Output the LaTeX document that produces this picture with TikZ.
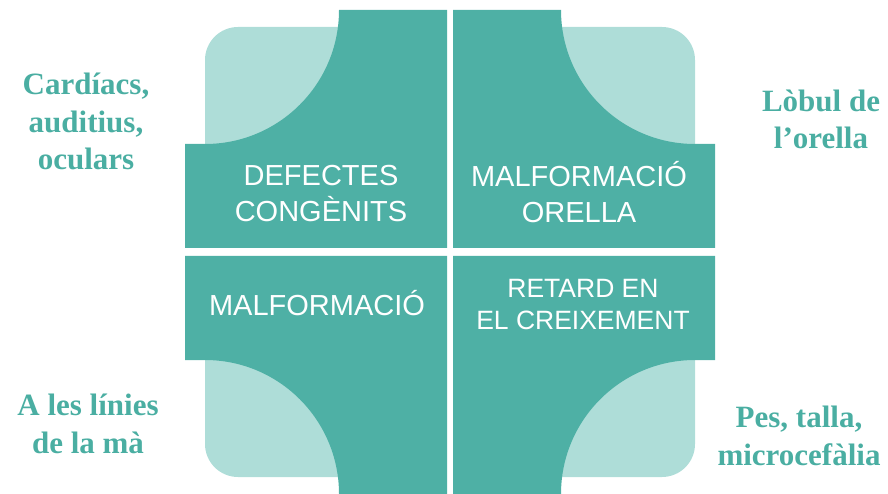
\documentclass[tikz,border=0pt]{standalone}
\usepackage{fontspec}
\setmainfont{Liberation Serif}
\newfontfamily\boxfont{Liberation Sans}
\definecolor{darkteal}{HTML}{4EB0A5}
\definecolor{lightteal}{HTML}{AEDDD8}
\definecolor{textteal}{HTML}{4AAEA2}
\begin{document}
\begin{tikzpicture}[x=1pt,y=1pt,
  boxtext/.style={text=white, font=\boxfont\fontsize{29}{36}\selectfont, align=center, inner sep=0pt, anchor=base},
  smallbox/.style={boxtext, font=\boxfont\fontsize{26.5}{32}\selectfont},
  sidetext/.style={text=textteal, font=\bfseries\fontsize{31}{37.5}\selectfont, align=center, inner sep=0pt, anchor=base},
  darkfill/.style={fill=darkteal},
  lightfill/.style={fill=lightteal}]
\useasboundingbox (0,0) rectangle (888,493);
% light background square
\fill[lightfill, rounded corners=33pt] (205,16) rectangle (695,466);
% white gaps between quadrants
\fill[white] (447,0) rectangle (453,493);
\fill[white] (185,237) rectangle (715,245);
% dark quadrants
\fill[darkfill] (185,245) -- (185,349) -- (205,349) arc[start angle=270, end angle=360, radius=134] -- (447,483) -- (447,245) -- cycle;
\fill[darkfill] (715,245) -- (715,349) -- (695,349) arc[start angle=270, end angle=180, radius=134] -- (453,483) -- (453,245) -- cycle;
\fill[darkfill] (185,237) -- (185,133) -- (205,133) arc[start angle=90, end angle=0, radius=134] -- (447,-1) -- (447,237) -- cycle;
\fill[darkfill] (715,237) -- (715,133) -- (695,133) arc[start angle=90, end angle=180, radius=134] -- (453,-1) -- (453,237) -- cycle;
% box labels (anchor = baseline of last line)
\node[boxtext] (tl) at (321,271) {DEFECTES\\CONGÈNITS};
\node[boxtext] (tr) at (579,270) {MALFORMACIÓ\\ORELLA};
\node[boxtext] (bl) at (317,178) {MALFORMACIÓ};
\node[smallbox] (br) at (583,164) {RETARD EN\\EL CREIXEMENT};
% side labels
\node[sidetext] (lt) at (86,323) {Cardíacs,\\auditius,\\oculars};
\node[sidetext] (rt) at (821,344) {Lòbul de\\l’orella};
\node[sidetext] (lb) at (88,40) {A les línies\\de la mà};
\node[sidetext] (rb) at (799,28) {Pes, talla,\\microcefàlia};
\end{tikzpicture}
\end{document}
